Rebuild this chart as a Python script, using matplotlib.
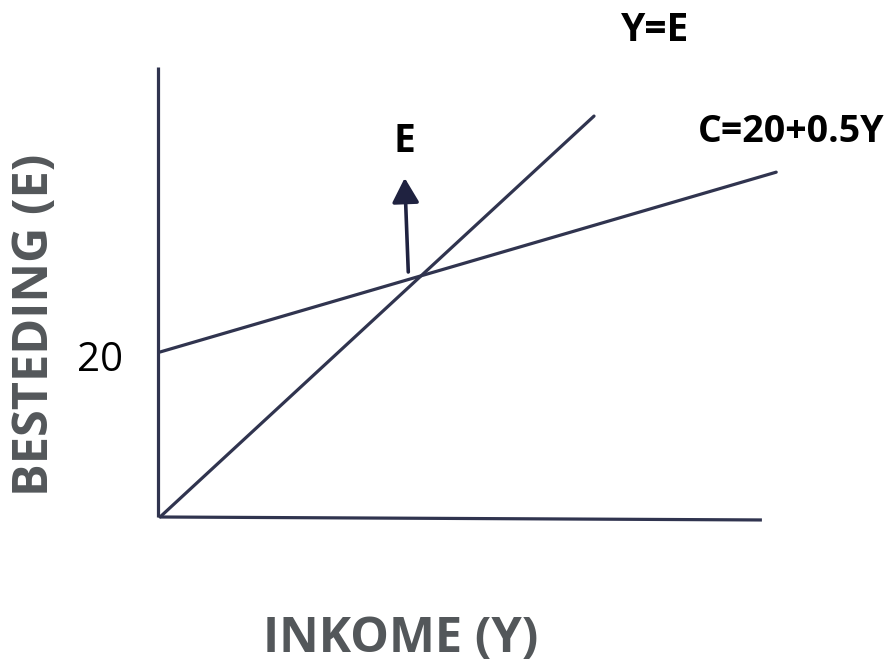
import matplotlib
matplotlib.use("Agg")
import matplotlib.pyplot as plt

# ---- data (chart units: income on x, spending on y) ----
income_axis_x = [0.0, 67.4]
income_axis_y = [0.0, -0.36]
spending_axis_x = [-0.2, -0.2]
spending_axis_y = [0.0, 54.5]

ye_line_x = [0.0, 48.6]          # Y = E line
ye_line_y = [0.0, 48.6]

c_line_x = [0.0, 69.0]           # C = 20 + 0.5Y line (as drawn)
c_line_y = [20.0, 41.8]

arrow_tail = (27.8, 29.7)
arrow_tip = (27.4, 41.1)

tick_value = 20
tick_label = "20"
label_ye = "Y=E"
label_c = "C=20+0.5Y"
label_e = "E"
xlabel = "INKOME (Y)"
ylabel = "BESTEDING (E)"

line_color = "#30344f"
arrow_color = "#1f2240"
gray = "#53575a"

fig = plt.figure(figsize=(8.93, 6.64), dpi=100)
ax = fig.add_axes([0, 0, 1, 1])
ax.set_xlim(-17.92, 82.08)
ax.set_ylim(-17.82, 62.67)
ax.axis("off")

lw = 2.3
ax.plot(income_axis_x, income_axis_y, color=line_color, lw=lw, solid_capstyle="butt")
ax.plot(spending_axis_x, spending_axis_y, color=line_color, lw=lw, solid_capstyle="butt")
ax.plot(ye_line_x, ye_line_y, color=line_color, lw=lw, solid_capstyle="round")
ax.plot(c_line_x, c_line_y, color=line_color, lw=lw, solid_capstyle="round")

ax.annotate("", xy=arrow_tip, xytext=arrow_tail,
            arrowprops=dict(arrowstyle="-|>,head_length=1.0,head_width=0.55",
                            mutation_scale=15, lw=2.6, color=arrow_color,
                            shrinkA=0, shrinkB=0))

font = "Open Sans"
ax.text(-4.1, tick_value - 0.4, tick_label, ha="right", va="center_baseline",
        fontsize=29, color="black", family=font)
ax.text(55.4, 59.0, label_ye, ha="center", va="center", fontsize=28,
        fontweight="bold", color="black", family=font)
ax.text(70.7, 46.7, label_c, ha="center", va="center", fontsize=27,
        fontweight="bold", color="black", family=font)
ax.text(27.4, 45.5, label_e, ha="center", va="center", fontsize=28,
        fontweight="bold", color="black", family=font)
ax.text(26.9, -14.9, xlabel, ha="center", va="center", fontsize=35,
        fontweight="bold", color=gray, family=font)
ax.text(-14.0, 23.3, ylabel, ha="center", va="center", fontsize=35,
        fontweight="bold", color=gray, family=font, rotation=90)

fig.savefig("out.png", dpi=100)
